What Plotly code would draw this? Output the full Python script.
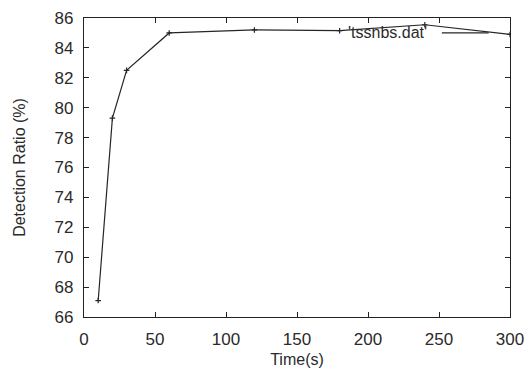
import plotly.graph_objects as go

time_s = [10, 20, 30, 60, 120, 180, 240, 300]
detection = [67.1, 79.3, 82.5, 85.0, 85.2, 85.15, 85.55, 84.9]
x_ticks = [0, 50, 100, 150, 200, 250, 300]
y_ticks = [66, 68, 70, 72, 74, 76, 78, 80, 82, 84, 86]
legend_label = "'tssnbs.dat'"

fig = go.Figure()
fig.add_trace(go.Scatter(
    x=time_s, y=detection, mode="lines+markers",
    line=dict(color="#262626", width=1.2),
    marker=dict(symbol="cross-thin", size=4, line=dict(color="#262626", width=1.2)),
    showlegend=False,
))

font = dict(family="Liberation Sans, Arial, sans-serif", color="#2a2a2a")
axis_common = dict(
    showgrid=False, zeroline=False, showline=True, linecolor="#222222", linewidth=1.3,
    mirror="ticks", ticks="inside", ticklen=5, tickcolor="#222222", tickwidth=1.2,
    tickfont=dict(size=17, **font), ticklabelstandoff=6, automargin=False,
)
fig.update_xaxes(range=[0, 300], tickvals=x_ticks,
                 title=dict(text="Time(s)", font=dict(size=16, **font), standoff=8),
                 **axis_common)
fig.update_yaxes(range=[66, 86], tickvals=y_ticks,
                 title=dict(text="Detection Ratio (%)", font=dict(size=16, **font), standoff=24),
                 **axis_common)

# gnuplot-style key: text then line sample
fig.add_annotation(xref="paper", yref="paper", x=0.81, y=0.95, text=legend_label,
                   showarrow=False, xanchor="right", yanchor="middle",
                   font=dict(size=16, **font))
fig.add_shape(type="line", xref="paper", yref="paper", x0=0.84, x1=0.95, y0=0.95, y1=0.95,
              line=dict(color="#262626", width=1.2))

fig.update_layout(
    width=529, height=368, margin=dict(l=84, r=19, t=18, b=51),
    paper_bgcolor="white", plot_bgcolor="white",
)
fig.write_html("out.html")
